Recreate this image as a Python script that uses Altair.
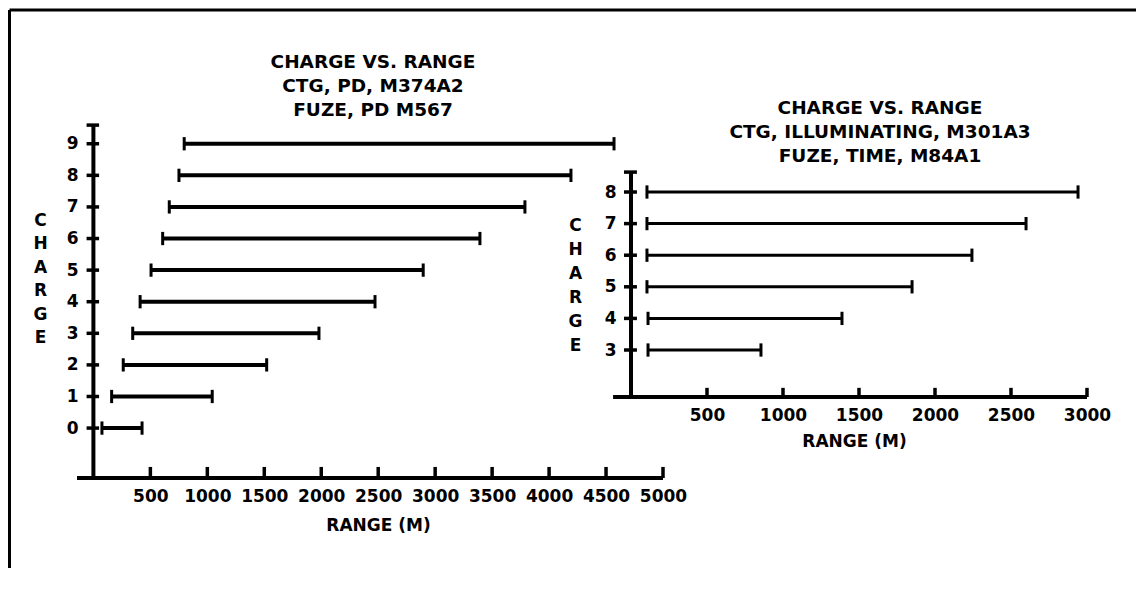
import altair as alt
import pandas as pd

# ---------------- data ----------------
left_charge = [0, 1, 2, 3, 4, 5, 6, 7, 8, 9]
left_min = [75, 160, 262, 345, 410, 506, 608, 666, 751, 797]
left_max = [427, 1043, 1521, 1980, 2472, 2895, 3393, 3788, 4192, 4570]
left_xticks = [500, 1000, 1500, 2000, 2500, 3000, 3500, 4000, 4500, 5000]
left_xdomain = [-144, 5000]
left_xline = [-144, 5000]
left_ydomain = [-1.58, 9.72]
left_ytop = 9.59
left_title = ["CHARGE VS. RANGE", "CTG, PD, M374A2", "FUZE, PD M567"]

right_charge = [3, 4, 5, 6, 7, 8]
right_min = [112, 112, 105, 105, 105, 105]
right_max = [855, 1388, 1849, 2243, 2599, 2941]
right_xticks = [500, 1000, 1500, 2000, 2500, 3000]
right_xdomain = [210.5, 3000]
right_xline = [-118, 3000]
right_ydomain = [1.513, 10.247]
right_ytop = 8.63
right_title = ["CHARGE VS. RANGE", "CTG, ILLUMINATING, M301A3", "FUZE, TIME, M84A1"]

y_title = ["C", "H", "A", "R", "G", "E"]
x_title = "RANGE (M)"

FONT = "DejaVu Sans"
INK = "#000000"


def panel(charges, mins, maxs, xticks, xdom, xln, ydom, ytop, width, height,
          bar_w, cap_h, ytick_lr, xtick_len, title, title_offset, title_dx,
          xt_xy, yt_xy, ylab_pad, border_layers):
    xs = alt.Scale(domain=xdom, nice=False, zero=False)
    ys = alt.Scale(domain=ydom, nice=False, zero=False)
    xaxis = alt.Axis(values=xticks, domain=False, ticks=False, tickSize=0, grid=False,
                     labelPadding=10, labelFlush=False, labelOverlap=False, format="d",
                     labelFont=FONT, labelFontSize=17, labelFontWeight="bold", labelColor=INK,
                     title=x_title, titleFont=FONT, titleFontSize=17, titleFontWeight="bold",
                     titleColor=INK, titleX=xt_xy[0], titleY=xt_xy[1], titleBaseline="top",
                     titleAlign="center")
    yaxis = alt.Axis(values=charges, domain=False, ticks=False, tickSize=0, grid=False,
                     labelPadding=ylab_pad, labelFlush=False, labelOverlap=False, format="d",
                     labelFont=FONT, labelFontSize=17, labelFontWeight="bold", labelColor=INK,
                     title=y_title, titleAngle=0, titleAlign="center", titleBaseline="top",
                     titleX=yt_xy[0], titleY=yt_xy[1], titleLineHeight=yt_xy[2],
                     titleFont=FONT, titleFontSize=17, titleFontWeight="bold", titleColor=INK)

    def X(f):
        return alt.X(f, scale=xs, axis=xaxis)

    def Y(f):
        return alt.Y(f, scale=ys, axis=yaxis)

    bars_df = pd.DataFrame({"charge": charges, "lo": mins, "hi": maxs})
    bars = alt.Chart(bars_df).mark_rule(color=INK, strokeWidth=bar_w).encode(
        x=X("lo:Q"), x2="hi:Q", y=Y("charge:Q"),
    )

    caps_df = pd.DataFrame({"x": mins + maxs, "charge": charges + charges})
    caps = alt.Chart(caps_df).transform_calculate(
        y0=f"datum.charge - {cap_h}", y1=f"datum.charge + {cap_h}"
    ).mark_rule(color=INK, strokeWidth=3).encode(
        x=X("x:Q"), y=Y("y0:Q"), y2="y1:Q",
    )

    yline_df = pd.DataFrame({"x": [0], "y0": [ydom[0]], "y1": [ytop]})
    yline = alt.Chart(yline_df).mark_rule(color=INK, strokeWidth=4).encode(
        x=X("x:Q"), y=Y("y0:Q"), y2="y1:Q",
    )

    yt_df = pd.DataFrame({"y": charges + [ytop]})
    yticks = alt.Chart(yt_df).transform_calculate(
        x0=f"{ytick_lr[0]}", x1=f"{ytick_lr[1]}"
    ).mark_rule(color=INK, strokeWidth=3.5).encode(
        x=X("x0:Q"), x2="x1:Q", y=Y("y:Q"),
    )

    xline_df = pd.DataFrame({"y": [ydom[0]], "x0": [xln[0]], "x1": [xln[1]]})
    xline = alt.Chart(xline_df).mark_rule(color=INK, strokeWidth=4).encode(
        x=X("x0:Q"), x2="x1:Q", y=Y("y:Q"),
    )

    xt_df = pd.DataFrame({"x": xticks})
    xtk = alt.Chart(xt_df).transform_calculate(
        y0=f"{ydom[0]}", y1=f"{ydom[0] + xtick_len}"
    ).mark_rule(color=INK, strokeWidth=3.5).encode(
        x=X("x:Q"), y=Y("y0:Q"), y2="y1:Q",
    )

    layers = [bars, caps, yline, yticks, xline, xtk] + border_layers
    return alt.layer(*layers).properties(
        width=width, height=height,
        title=alt.TitleParams(text=title, anchor="middle", frame="group",
                              offset=title_offset, dx=title_dx, font=FONT,
                              fontSize=18.5, fontWeight="bold", color=INK,
                              lineHeight=24, baseline="bottom"),
    )


one = pd.DataFrame({"k": [1]})
left_border = [
    alt.Chart(one).mark_rule(color=INK, strokeWidth=3).encode(
        x=alt.value(-67.5), y=alt.value(-111), y2=alt.value(447)),
    alt.Chart(one).mark_rule(color=INK, strokeWidth=3).encode(
        x=alt.value(-67.5), x2=alt.value(586), y=alt.value(-111)),
]
right_border = [
    alt.Chart(one).mark_rule(color=INK, strokeWidth=3).encode(
        x=alt.value(0), x2=alt.value(473), y=alt.value(-111)),
]

left = panel(left_charge, left_min, left_max, left_xticks, left_xdomain, left_xline,
             left_ydomain, left_ytop, 586, 357, 4, 0.21, (-60, 50), 0.35, left_title,
             -130, 3, (301, 39), (-37, 91, 23.5), -1, left_border)
right = panel(right_charge, right_min, right_max, right_xticks, right_xdomain, right_xline,
              right_ydomain, right_ytop, 424, 276, 3, 0.21, (-46, 39), 0.29, right_title,
              -176, 30 - 25, (191, 36), (-88, 96, 24), 47, right_border)

chart = alt.hconcat(left, right, spacing=0, bounds="flush").properties(
    padding=0, background="white"
).configure_view(stroke=None)

chart.save("out.html", embed_options={"renderer": "svg", "actions": False})
